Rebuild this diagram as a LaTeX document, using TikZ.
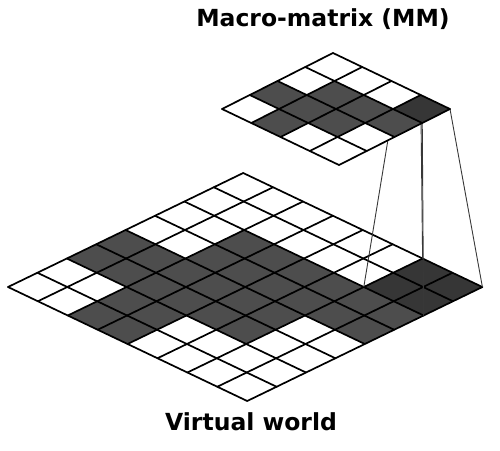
\documentclass[tikz,border=0pt]{standalone}
\usepackage{fontspec}
\setmainfont{DejaVu Sans}
\definecolor{cellgray}{HTML}{4D4D4D}
\definecolor{celldark}{HTML}{363636}
\definecolor{projgray}{HTML}{383838}
\tikzset{
  gridline/.style={line width=1.7pt, black, line join=round, line cap=round},
  darkcell/.style={fill=cellgray},
  darkercell/.style={fill=celldark},
  projline/.style={line width=0.9pt, projgray},
  titletext/.style={font=\bfseries\fontsize{23.5}{28}\selectfont, anchor=base, inner sep=0pt}
}
\begin{document}
\begin{tikzpicture}[x=1pt,y=-1pt]
\useasboundingbox (0,0) rectangle (500,450);
% ---------- big grid (virtual world) ----------
\begin{scope}[shift={(8,287)}, x={(29.4pt,14.25pt)}, y={(29.9pt,-14.25pt)}]
  \foreach \I/\J in {1/0,0/1,1/1,2/1,1/2,2/2,2/3} {
    \fill[darkcell] ({2*\I},{2*\J}) -- ({2*\I+2},{2*\J}) -- ({2*\I+2},{2*\J+2}) -- ({2*\I},{2*\J+2}) -- cycle;
  }
  \fill[darkercell] (6,6) -- (8,6) -- (8,8) -- (6,8) -- cycle;
  \foreach \k in {0,...,8} {
    \draw[gridline] (\k,0) -- (\k,8);
    \draw[gridline] (0,\k) -- (8,\k);
  }
  \coordinate (b66) at (6,6);
  \coordinate (b86) at (8,6);
  \coordinate (b68) at (6,8);
  \coordinate (b88) at (8,8);
\end{scope}
% ---------- macro-matrix ----------
\begin{scope}[shift={(222,109)}, x={(27.75pt,14pt)}, y={(29.25pt,-14pt)}]
  \coordinate (m33) at (3,3);
  \coordinate (m43) at (4,3);
  \coordinate (m34) at (3,4);
  \coordinate (m44) at (4,4);
\end{scope}
\draw[projline] (m33) -- (b66);
\draw[projline] (m43) -- (b86);
\draw[projline] (m34) -- (b68);
\draw[projline] (m44) -- (b88);
\begin{scope}[shift={(222,109)}, x={(27.75pt,14pt)}, y={(29.25pt,-14pt)}]
  \fill[white] (0,0) -- (4,0) -- (4,4) -- (0,4) -- cycle;
  \foreach \I/\J in {1/0,0/1,1/1,2/1,1/2,2/2,2/3} {
    \fill[darkcell] (\I,\J) -- ({\I+1},\J) -- ({\I+1},{\J+1}) -- (\I,{\J+1}) -- cycle;
  }
  \fill[darkercell] (3,3) -- (4,3) -- (4,4) -- (3,4) -- cycle;
  \foreach \k in {0,...,4} {
    \draw[gridline] (\k,0) -- (\k,4);
    \draw[gridline] (0,\k) -- (4,\k);
  }
\end{scope}
% ---------- titles ----------
\node[titletext] (mmtitle) at (323,26.5) {Macro-matrix (MM)};
\node[titletext] (vwtitle) at (251,430) {Virtual world};
\end{tikzpicture}
\end{document}
